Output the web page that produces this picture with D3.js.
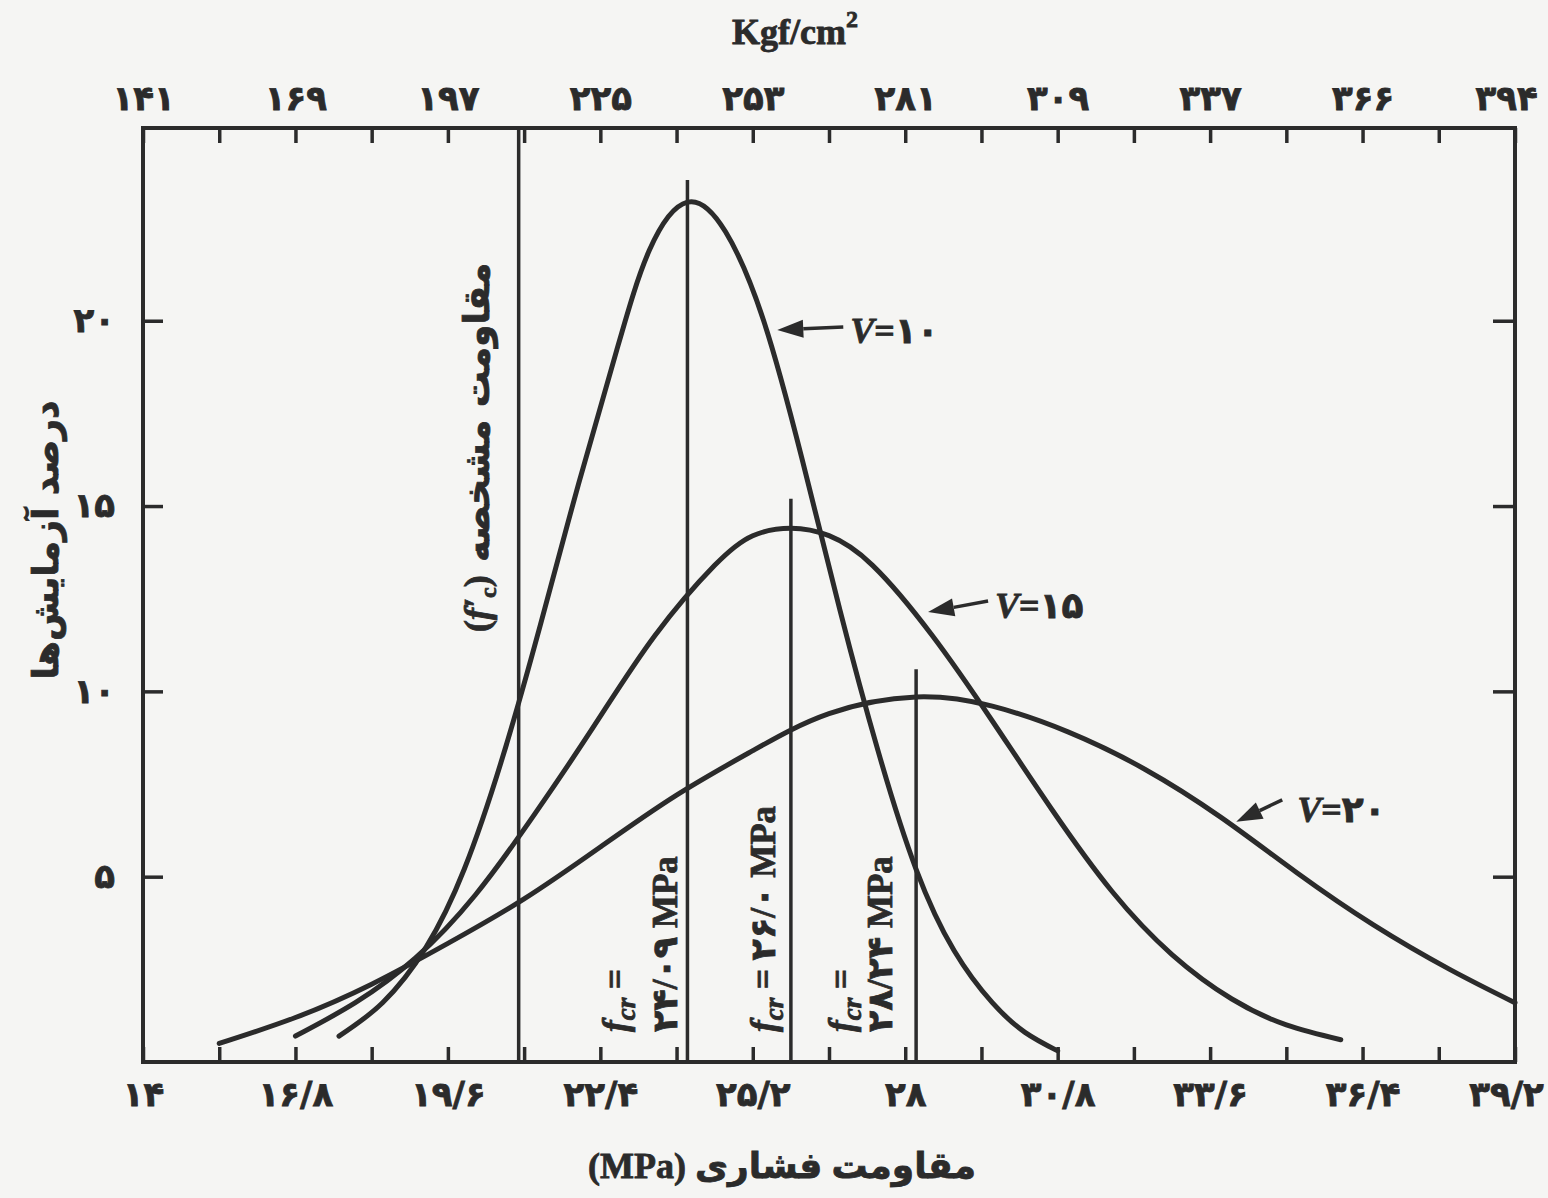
<!DOCTYPE html>
<html>
<head>
<meta charset="utf-8">
<script src="https://cdn.jsdelivr.net/npm/d3@7"></script>
<style>
body { margin: 0; background: #f5f5f3; }
svg { display: block; }
</style>
</head>
<body>
<div class="canva-graph"></div>
<script>
// bottom axis ticks (MPa), labelled ones and the unlabelled ones between them
const mpaTicks = [14, 16.8, 19.6, 22.4, 25.2, 28, 30.8, 33.6, 36.4, 39.2];
const mpaMinor = [15.4, 18.2, 21, 23.8, 26.6, 29.4, 32.2, 35, 37.8];
// top axis labels (Kgf/cm2) at the same places as mpaTicks
const kgfLabels = [141, 169, 197, 225, 253, 281, 309, 337, 366, 394];
// left axis (percent of tests)
const pctTicks = [5, 10, 15, 20];

// curves: [MPa, percent]
const curveV10 = [[17.6,0.7],[18.4,1.6],[19.2,3.1],[19.9,5.2],[20.6,8.2],[21.3,11.8],[22.0,15.6],[22.7,19.2],[23.3,21.9],
  [24.0,23.2],[24.7,22.4],[25.4,20.0],[26.1,16.3],[26.8,12.2],[27.5,8.4],[28.2,5.2],[28.9,3.0],[29.6,1.6],[30.2,0.8],[30.8,0.3]];
const curveV15 = [[16.8,0.7],[17.9,1.6],[19.0,2.8],[20.1,4.5],[21.2,6.7],[22.3,9.1],[23.4,11.5],[24.5,13.4],[25.2,14.2],
  [25.9,14.4],[26.6,14.2],[27.4,13.4],[28.5,11.5],[29.6,9.2],[30.7,6.8],[31.8,4.6],[32.9,2.9],[34.0,1.7],[35.0,1.0],[36.0,0.6]];
const curveV20 = [[15.4,0.5],[16.8,1.2],[18.2,2.1],[19.6,3.2],[21.0,4.4],[22.4,5.8],[23.8,7.2],[25.2,8.4],[26.6,9.4],
  [28.2,9.85],[29.6,9.6],[31.0,8.9],[32.4,7.9],[33.8,6.6],[35.2,5.1],[36.6,3.7],[38.0,2.5],[39.2,1.6]];
const vNames = ["۱۰", "۱۵", "۲۰"];

// required mean strength lines
const fcrValues = [24.0, 25.9, 28.2];
const fcrTops = [23.8, 15.2, 10.6];
const fcrLabels = ["۲۴/۰۹", "۲۶/۰", "۲۸/۲۴"];
// specified strength line
const fcPrime = 20.9;

// arrow tips on the curves [MPa, percent]
const arrowTips = [[25.65, 19.75], [28.42, 12.14], [34.08, 6.48]];

const ink = "#2b2b2b";
const faFont = "'DejaVu Sans', sans-serif";
const serifFont = "'Liberation Serif', 'DejaVu Sans', serif";

// latin digits -> persian digits, "." -> "/"
const fa = s => String(s).replace(/\d/g, d => "۰۱۲۳۴۵۶۷۸۹"[d]).replace(".", "/");

const svg = d3.select(".canva-graph").append("svg")
    .attr("width", 1548)
    .attr("height", 1198);

svg.append("rect").attr("width", 1548).attr("height", 1198).attr("fill", "#f5f5f3");

const x = d3.scaleLinear().domain([14, 39.2]).range([143, 1515]);
const y = d3.scaleLinear().domain([0, 25.2]).range([1062, 128]);

const allTicks = mpaTicks.concat(mpaMinor);

function styleAxis(g, size) {
    g.select(".domain").remove();
    g.selectAll(".tick line").attr("stroke", ink).attr("stroke-width", 3.5);
    g.selectAll(".tick text")
        .attr("fill", ink)
        .attr("font-family", faFont)
        .attr("font-weight", "bold")
        .attr("font-size", size)
        .attr("stroke", ink)
        .attr("stroke-width", 0.8);
    // last label sits on the page edge, pull it in a little
    g.selectAll(".tick text").filter(d => d === 39.2).attr("dx", -9);
}

// bottom axis
svg.append("g")
    .attr("transform", `translate(0,${y(0)})`)
    .call(d3.axisBottom(x).tickValues(allTicks).tickSizeInner(-15).tickSizeOuter(0).tickPadding(20)
        .tickFormat(d => mpaTicks.includes(d) ? fa(d) : ""))
    .call(g => styleAxis(g, 34));

// top axis
svg.append("g")
    .attr("transform", `translate(0,${y.range()[1]})`)
    .call(d3.axisTop(x).tickValues(allTicks).tickSizeInner(-15).tickSizeOuter(0).tickPadding(18)
        .tickFormat(d => {
            const i = mpaTicks.indexOf(d);
            return i < 0 ? "" : fa(kgfLabels[i]);
        }))
    .call(g => styleAxis(g, 34));

// left axis
svg.append("g")
    .attr("transform", `translate(${x(14)},0)`)
    .call(d3.axisLeft(y).tickValues(pctTicks).tickSizeInner(-20).tickSizeOuter(0).tickPadding(28).tickFormat(fa))
    .call(g => styleAxis(g, 34));

// right axis, ticks only
svg.append("g")
    .attr("transform", `translate(${x(39.2)},0)`)
    .call(d3.axisRight(y).tickValues(pctTicks).tickSizeInner(-22).tickSizeOuter(0).tickFormat(""))
    .call(g => styleAxis(g, 34));

// frame
svg.append("rect")
    .attr("x", x(14)).attr("y", y(25.2))
    .attr("width", x(39.2) - x(14)).attr("height", y(0) - y(25.2))
    .attr("fill", "none").attr("stroke", ink).attr("stroke-width", 4);

// vertical lines
svg.append("line")
    .attr("x1", x(fcPrime)).attr("x2", x(fcPrime))
    .attr("y1", y(25.2)).attr("y2", y(0))
    .attr("stroke", ink).attr("stroke-width", 3.5);

svg.append("g").selectAll("line")
    .data(fcrValues)
    .join("line")
    .attr("x1", d => x(d)).attr("x2", d => x(d))
    .attr("y1", (d, i) => y(fcrTops[i])).attr("y2", y(0))
    .attr("stroke", ink).attr("stroke-width", 3.5);

// curves
const line = d3.line()
    .x(d => x(d[0]))
    .y(d => y(d[1]))
    .curve(d3.curveNatural);

svg.append("g")
    .attr("fill", "none")
    .attr("stroke", ink)
    .attr("stroke-width", 5)
    .attr("stroke-linecap", "round")
    .selectAll("path")
    .data([curveV10, curveV15, curveV20])
    .join("path")
    .attr("d", line);

// V= labels with arrows
const arrowTails = [[66, -3], [60, -11], [46, -22]];   // pixel offsets from tip
const labelOffsets = [[73, 13], [67, 6], [61, 0]];

arrowTips.forEach((t, i) => {
    const tx = x(t[0]), ty = y(t[1]);
    const ex = tx + arrowTails[i][0], ey = ty + arrowTails[i][1];
    const ang = Math.atan2(ty - ey, tx - ex);
    const len = 26, w = 9;
    const bx = tx - len * Math.cos(ang), by = ty - len * Math.sin(ang);
    svg.append("line")
        .attr("x1", ex).attr("y1", ey).attr("x2", bx).attr("y2", by)
        .attr("stroke", ink).attr("stroke-width", 3.5);
    svg.append("path")
        .attr("d", `M${tx},${ty}L${bx + w * Math.sin(ang)},${by - w * Math.cos(ang)}L${bx - w * Math.sin(ang)},${by + w * Math.cos(ang)}Z`)
        .attr("fill", ink);
    const txt = svg.append("text")
        .attr("x", tx + labelOffsets[i][0]).attr("y", ty + labelOffsets[i][1])
        .attr("fill", ink)
        .attr("stroke", ink).attr("stroke-width", 0.8)
        .attr("font-family", serifFont)
        .attr("font-weight", "bold")
        .attr("font-size", 36);
    txt.append("tspan").attr("font-style", "italic").text("V");
    txt.append("tspan").text("=" + vNames[i]);
});

// fcr labels, rotated, reading bottom to top
function fcrText(px, text, withF) {
    const t = svg.append("text")
        .attr("transform", `translate(${px},1032) rotate(-90)`)
        .attr("dy", "0.35em")
        .attr("fill", ink)
        .attr("stroke", ink).attr("stroke-width", 0.8)
        .attr("font-family", serifFont)
        .attr("font-weight", "bold")
        .attr("font-size", 35);
    if (withF) {
        t.append("tspan").attr("font-style", "italic").text("f");
        t.append("tspan").attr("font-style", "italic").attr("font-size", 27).attr("dy", 8).text("cr");
        t.append("tspan").attr("dy", -8).text(" =" + (text ? " " + text : ""));
    } else {
        t.text(text);
    }
}
fcrText(x(fcrValues[0]) - 73, "", true);
fcrText(x(fcrValues[0]) - 23, fcrLabels[0] + " MPa", false);
fcrText(x(fcrValues[1]) - 28, fcrLabels[1] + " MPa", true);
fcrText(x(fcrValues[2]) - 75, "", true);
fcrText(x(fcrValues[2]) - 36, fcrLabels[2] + " MPa", false);

// f'c label beside the specified strength line
const fcG = svg.append("g")
    .attr("transform", `translate(${x(fcPrime) - 42},632) rotate(-90)`);
const fcT = fcG.append("text")
    .attr("dy", "0.35em")
    .attr("fill", ink)
    .attr("stroke", ink).attr("stroke-width", 0.8)
    .attr("font-family", serifFont)
    .attr("font-weight", "bold")
    .attr("font-size", 36);
fcT.append("tspan").text("(");
fcT.append("tspan").attr("font-style", "italic").text("f′");
fcT.append("tspan").attr("font-size", 24).attr("dy", 7).text("c");
fcT.append("tspan").attr("dy", -7).text(")");
fcG.append("text")
    .attr("x", 70)
    .attr("dy", "0.35em")
    .attr("fill", ink)
    .attr("stroke", ink).attr("stroke-width", 0.8)
    .attr("font-family", faFont)
    .attr("font-weight", "bold")
    .attr("font-size", 36)
    .text("مقاومت مشخصه");

// axis titles
svg.append("text")
    .attr("x", 795).attr("y", 44)
    .attr("text-anchor", "middle")
    .attr("fill", ink)
    .attr("stroke", ink).attr("stroke-width", 0.8)
    .attr("font-family", serifFont)
    .attr("font-weight", "bold")
    .attr("font-size", 36)
    .call(t => {
        t.append("tspan").text("Kgf/cm");
        t.append("tspan").attr("font-size", 24).attr("dy", -17).text("2");
    });

svg.append("text")
    .attr("x", 782).attr("y", 1178)
    .attr("text-anchor", "middle")
    .attr("direction", "rtl")
    .attr("fill", ink)
    .attr("stroke", ink).attr("stroke-width", 0.8)
    .attr("font-family", serifFont)
    .attr("font-weight", "bold")
    .attr("font-size", 36)
    .text("مقاومت فشاری (MPa)");

svg.append("text")
    .attr("transform", "translate(45,540) rotate(-90)")
    .attr("text-anchor", "middle")
    .attr("dy", "0.35em")
    .attr("fill", ink)
    .attr("stroke", ink).attr("stroke-width", 0.8)
    .attr("font-family", faFont)
    .attr("font-weight", "bold")
    .attr("font-size", 36)
    .text("درصد آزمایش‌ها");
</script>
</body>
</html>
